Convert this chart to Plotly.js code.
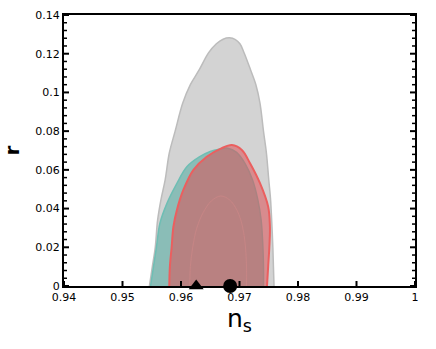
<!DOCTYPE html>
<html>
<head>
<meta charset="utf-8">
<script src="https://cdn.plot.ly/plotly-3.0.1.min.js"></script>
<style>
  html, body { margin: 0; padding: 0; background: #fff; }
  #chart { width: 436px; height: 349px; }
</style>
</head>
<body>
<div id="chart"></div>
<script>
// contour boundaries (ns, r), left side going up then right side going down
const grayNs = [0.9546, 0.9551, 0.9556, 0.9560, 0.9566, 0.9573, 0.9580, 0.9590, 0.9603, 0.9616, 0.9631, 0.9647, 0.9660, 0.9672, 0.9683,
                0.9693, 0.9701, 0.9708, 0.9719, 0.9728, 0.9735, 0.9741, 0.9746, 0.9750, 0.9753, 0.9755, 0.9757, 0.9758, 0.9759];
const grayR  = [0, 0.010, 0.020, 0.034, 0.045, 0.055, 0.0687, 0.080, 0.0945, 0.104, 0.1116, 0.1204, 0.1250, 0.1275, 0.1282,
                0.1273, 0.1250, 0.1204, 0.1116, 0.104, 0.0945, 0.080, 0.0687, 0.055, 0.045, 0.034, 0.020, 0.010, 0];

const tealNs = [0.9548, 0.9553, 0.9558, 0.9564, 0.9576, 0.9593, 0.9610, 0.9632, 0.9650, 0.9665, 0.9680,
                0.9695, 0.9710, 0.9722, 0.9731, 0.9737, 0.9740, 0.9741, 0.9741];
const tealR  = [0, 0.010, 0.020, 0.0324, 0.0427, 0.0530, 0.0616, 0.0668, 0.0695, 0.0707, 0.0712,
                0.0690, 0.0630, 0.0550, 0.0450, 0.0340, 0.020, 0.010, 0];

const redNs = [0.9580, 0.9581, 0.9584, 0.9587, 0.9593, 0.9604, 0.9621, 0.9644, 0.9669, 0.9687,
               0.9704, 0.9718, 0.9735, 0.9749, 0.9752, 0.9751, 0.9749, 0.9747];
const redR  = [0, 0.010, 0.0200, 0.0306, 0.0393, 0.0496, 0.0599, 0.0668, 0.0711, 0.0728,
               0.0703, 0.0634, 0.0531, 0.0410, 0.0306, 0.020, 0.010, 0];

const redInnerNs = [0.9615, 0.9616, 0.9620, 0.9627, 0.9638, 0.9652, 0.9668, 0.9683, 0.9696, 0.9705, 0.9710, 0.9712, 0.9712];
const redInnerR  = [0, 0.010, 0.020, 0.030, 0.038, 0.044, 0.0465, 0.0445, 0.039, 0.031, 0.021, 0.010, 0];

// best-fit points on the axis
const triangleNs = [0.9626];
const triangleR = [0];
const circleNs = [0.9684];
const circleR = [0];

const xTicks = [0.94, 0.95, 0.96, 0.97, 0.98, 0.99, 1];
const yTicks = [0, 0.02, 0.04, 0.06, 0.08, 0.1, 0.12, 0.14];
const yMinorPerMajor = 5;

const nsRange = [0.94, 1];
const rRange = [0, 0.14];

const contourLine = (color, width) => ({ color: color, width: width, shape: "spline", smoothing: 1 });

const traces = [
    {
        x: grayNs, y: grayR, mode: "lines", fill: "toself",
        fillcolor: "rgb(211,211,211)",
        line: contourLine("rgb(188,188,188)", 1.5),
        hoverinfo: "skip",
    },
    {
        x: tealNs, y: tealR, mode: "lines", fill: "toself",
        fillcolor: "rgba(90,175,165,0.6)",
        line: contourLine("rgb(110,190,180)", 1.5),
        hoverinfo: "skip",
    },
    {
        x: redNs, y: redR, mode: "lines", fill: "toself",
        fillcolor: "rgba(220,80,85,0.55)",
        line: contourLine("rgb(235,95,95)", 2),
        hoverinfo: "skip",
    },
    {
        x: redInnerNs, y: redInnerR, mode: "lines", fill: "toself",
        fillcolor: "rgba(205,130,130,0.12)",
        line: contourLine("rgba(215,140,140,0.45)", 1),
        hoverinfo: "skip",
    },
    {
        x: triangleNs, y: triangleR, mode: "markers", cliponaxis: false,
        marker: { symbol: "triangle-up", size: 13, color: "black" },
    },
    {
        x: circleNs, y: circleR, mode: "markers", cliponaxis: false,
        marker: { symbol: "circle", size: 14, color: "black" },
    },
];

// axis ticks would not show in this renderer, so draw them as pixel-sized shapes placed on the axes
const shapes = [];
function yTick(v, side, len, width) {
    const left = side === "left";
    shapes.push({
        type: "line", xref: "x", yref: "y", layer: "above",
        xsizemode: "pixel", xanchor: left ? nsRange[0] : nsRange[1],
        x0: 0, x1: left ? len : -len, y0: v, y1: v,
        line: { color: "black", width: width },
    });
}
function xTick(v, len, width) {
    shapes.push({
        type: "line", xref: "x", yref: "y", layer: "above",
        ysizemode: "pixel", yanchor: rRange[0],
        x0: v, x1: v, y0: 0, y1: len,
        line: { color: "black", width: width },
    });
}
xTicks.forEach(v => xTick(v, 5, 2));
yTicks.forEach((v, i) => {
    yTick(v, "left", 5, 2);
    yTick(v, "right", 5, 2);
    if (i < yTicks.length - 1) {
        const step = (yTicks[i + 1] - v) / yMinorPerMajor;
        for (let k = 1; k < yMinorPerMajor; k++) {
            yTick(v + k * step, "left", 3, 1.5);
            yTick(v + k * step, "right", 3, 1.5);
        }
    }
});

const layout = {
    width: 436,
    height: 349,
    margin: { l: 64, r: 21, t: 15, b: 63 },
    showlegend: false,
    paper_bgcolor: "white",
    plot_bgcolor: "white",
    font: { family: "DejaVu Sans", size: 11, color: "black" },
    shapes: shapes,
    xaxis: {
        range: nsRange,
        tickvals: xTicks,
        ticks: "",
        showline: true,
        linewidth: 2,
        linecolor: "black",
        mirror: true,
        showgrid: false,
        zeroline: false,
        automargin: true,
        tickfont: { family: "DejaVu Sans", size: 11 },
        title: { text: "n<sub>s</sub>", font: { family: "DejaVu Sans", size: 25 }, standoff: 0 },
    },
    yaxis: {
        range: rRange,
        tickvals: yTicks,
        ticks: "",
        showline: true,
        linewidth: 2,
        linecolor: "black",
        mirror: true,
        showgrid: false,
        zeroline: false,
        tickfont: { family: "DejaVu Sans", size: 11 },
        title: { text: "<b>r</b>", font: { family: "DejaVu Sans", size: 20 } },
    },
};

Plotly.newPlot("chart", traces, layout, { displayModeBar: false });
</script>
</body>
</html>
